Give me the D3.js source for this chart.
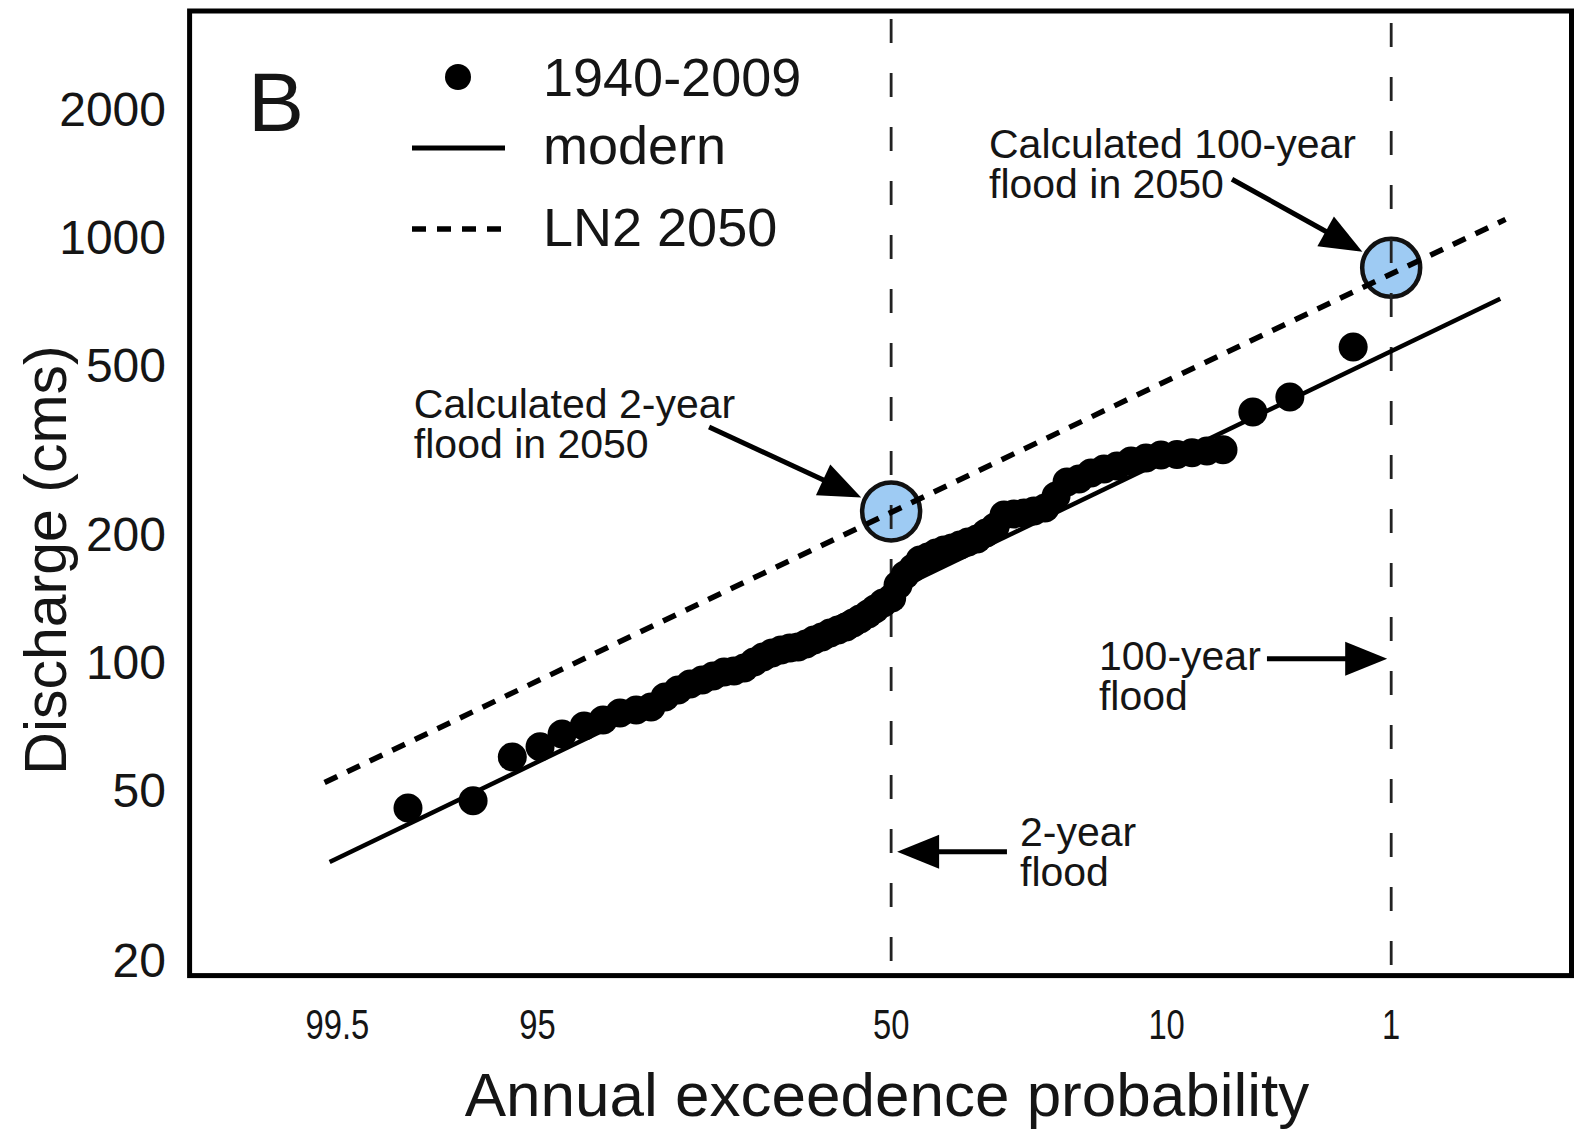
<!DOCTYPE html>
<html>
<head>
<meta charset="utf-8">
<script src="https://cdn.jsdelivr.net/npm/d3@7"></script>
<style>
  body { margin: 0; background: #fff; }
  svg text { font-family: "Liberation Sans", Arial, Helvetica, sans-serif; fill: #151515; }
</style>
</head>
<body>
<div id="chart"></div>
<script>
// Tick values
const probTicks = [99.5, 95, 50, 10, 1];
const dischargeTicks = [20, 50, 100, 200, 500, 1000, 2000];

// Annual peaks 1940-2009: exceedance probability (%) and discharge (cms)
const obsProb = [98.77, 97.41, 96.10, 94.88, 93.71, 92.34, 90.99, 89.64, 88.22, 86.80,
                 85.36, 83.92, 82.51, 81.03, 79.62, 78.14, 76.76, 75.30, 73.82, 72.44,
                 71.02, 69.57, 68.12, 66.75, 65.40, 64.02, 62.63, 61.18, 59.75, 58.32,
                 57.03, 55.76, 54.26, 52.99, 51.50,
                 49.9, 48.72, 47.42, 45.94, 44.65, 43.19, 41.73, 40.28, 38.85, 37.43,
                 36.03, 34.48, 32.95, 31.45, 29.98, 28.38, 26.83, 25.31, 23.71, 22.15,
                 20.66, 19.11, 17.62, 16.10, 14.67, 13.22, 11.79, 10.47, 9.18, 8.08,
                 7.09, 6.13, 4.62, 3.18, 1.58];
const obsQ = [44.6, 46.4, 58.8, 62.1, 66.6, 69.5, 71.8, 74.6, 75.8, 77.0,
              81.3, 84.5, 87.3, 89.2, 91.1, 93.1, 93.6, 95.2, 98.3, 101.0,
              103.2, 104.9, 106.0, 106.6, 108.3, 110.7, 112.5, 115.0, 116.9, 118.8,
              121.4, 124.1, 127.5, 131.0, 135.3,
              139.0, 149.1, 157.4, 163.5, 170.7, 173.5, 177.3, 180.2, 182.2, 185.2,
              188.2, 191.3, 197.6, 204.1, 217.8, 219.0, 220.1, 222.5, 226.2, 241.4,
              260.4, 264.6, 273.4, 279.4, 283.9, 291.7, 296.5, 301.4, 302, 305,
              308, 310, 380.2, 412.6, 540.6];

// Fitted distributions (straight lines on probability paper)
const modernProb = [99.55, 0.23];
const modernQ = [33.3, 702];
const ln2Prob = [99.58, 0.213];
const ln2Q = [51.2, 1079];

// 2-year and 100-year reference lines, calculated floods in 2050
const floodProb = [50, 1];
const calcProb = [50, 1];
const calcQ = [222, 830];

const W = 1577, H = 1129;
const frame = { left: 189.6, top: 11, right: 1571.5, bottom: 975.6 };

// inverse standard normal (Acklam)
function qnorm(p) {
    const a = [-3.969683028665376e+01, 2.209460984245205e+02, -2.759285104469687e+02, 1.383577518672690e+02, -3.066479806614716e+01, 2.506628277459239e+00];
    const b = [-5.447609879822406e+01, 1.615858368580409e+02, -1.556989798598866e+02, 6.680131188771972e+01, -1.328068155288572e+01];
    const c = [-7.784894002430293e-03, -3.223964580411365e-01, -2.400758277161838e+00, -2.549732539343734e+00, 4.374664141464968e+00, 2.938163982698783e+00];
    const d = [7.784695709041462e-03, 3.224671290700398e-01, 2.445134137142996e+00, 3.754408661907416e+00];
    const pl = 0.02425, ph = 1 - pl;
    let q, r;
    if (p < pl) {
        q = Math.sqrt(-2 * Math.log(p));
        return (((((c[0]*q+c[1])*q+c[2])*q+c[3])*q+c[4])*q+c[5]) / ((((d[0]*q+d[1])*q+d[2])*q+d[3])*q+1);
    }
    if (p <= ph) {
        q = p - 0.5; r = q * q;
        return (((((a[0]*r+a[1])*r+a[2])*r+a[3])*r+a[4])*r+a[5])*q / (((((b[0]*r+b[1])*r+b[2])*r+b[3])*r+b[4])*r+1);
    }
    q = Math.sqrt(-2 * Math.log(1 - p));
    return -(((((c[0]*q+c[1])*q+c[2])*q+c[3])*q+c[4])*q+c[5]) / ((((d[0]*q+d[1])*q+d[2])*q+d[3])*q+1);
}
const zOf = p => qnorm(1 - p / 100);

// Normal-probability x scale, log y scale
const zScale = d3.scaleLinear()
    .domain([zOf(99.945), zOf(0.0775)])
    .range([frame.left, frame.right]);
const x = p => zScale(zOf(p));
const y = d3.scaleLog().domain([18.0, 3333]).range([frame.bottom, frame.top]);

const svg = d3.select("#chart").append("svg")
    .attr("width", W).attr("height", H)
    .attr("viewBox", `0 0 ${W} ${H}`);

// calculated flood circles
svg.selectAll(".calc")
    .data(calcProb.map((p, i) => ({ p: p, q: calcQ[i] })))
    .enter().append("circle")
    .attr("cx", d => x(d.p))
    .attr("cy", d => y(d.q))
    .attr("r", 29)
    .attr("fill", "#9ecbf3")
    .attr("stroke", "#111")
    .attr("stroke-width", 4.5);

// vertical 2-year / 100-year lines
svg.selectAll(".flood")
    .data(floodProb)
    .enter().append("line")
    .attr("x1", d => x(d)).attr("x2", d => x(d))
    .attr("y1", frame.top).attr("y2", frame.bottom)
    .attr("stroke", "#222")
    .attr("stroke-width", 2.8)
    .attr("stroke-dasharray", "24,30")
    .attr("stroke-dashoffset", (d, i) => i === 0 ? 46 : 42);

const line = d3.line().x(d => x(d.p)).y(d => y(d.q));

svg.append("path")
    .datum(modernProb.map((p, i) => ({ p: p, q: modernQ[i] })))
    .attr("d", line)
    .attr("fill", "none")
    .attr("stroke", "#000")
    .attr("stroke-width", 4.5);

svg.append("path")
    .datum(ln2Prob.map((p, i) => ({ p: p, q: ln2Q[i] })))
    .attr("d", line)
    .attr("fill", "none")
    .attr("stroke", "#000")
    .attr("stroke-width", 5.5)
    .attr("stroke-dasharray", "14,11");

// observed annual peaks
svg.selectAll(".obs")
    .data(obsProb.map((p, i) => ({ p: p, q: obsQ[i] })))
    .enter().append("circle")
    .attr("cx", d => x(d.p))
    .attr("cy", d => y(d.q))
    .attr("r", 14.5)
    .attr("fill", "#000");

// frame
svg.append("rect")
    .attr("x", frame.left).attr("y", frame.top)
    .attr("width", frame.right - frame.left)
    .attr("height", frame.bottom - frame.top)
    .attr("fill", "none")
    .attr("stroke", "#000")
    .attr("stroke-width", 5);

// y tick labels
svg.selectAll(".ylab")
    .data(dischargeTicks)
    .enter().append("text")
    .attr("x", 166)
    .attr("y", d => y(d) + 4)
    .attr("text-anchor", "end")
    .attr("dominant-baseline", "central")
    .style("font-size", "48px")
    .text(d => d);

// x tick labels (condensed face in the original)
svg.selectAll(".xlab")
    .data(probTicks)
    .enter().append("text")
    .attr("transform", d => `translate(${x(d)},1039) scale(0.78,1)`)
    .attr("text-anchor", "middle")
    .style("font-size", "42px")
    .text(d => d);

// axis titles
svg.append("text")
    .attr("x", 887).attr("y", 1116)
    .attr("text-anchor", "middle")
    .style("font-size", "62px")
    .text("Annual exceedence probability");

svg.append("text")
    .attr("transform", "translate(66,560) rotate(-90)")
    .attr("text-anchor", "middle")
    .style("font-size", "59px")
    .text("Discharge (cms)");

// panel letter
svg.append("text")
    .attr("x", 248).attr("y", 131)
    .style("font-size", "84px")
    .text("B");

// legend
svg.append("circle").attr("cx", 458).attr("cy", 77).attr("r", 13).attr("fill", "#000");
svg.append("line").attr("x1", 412).attr("x2", 505).attr("y1", 148).attr("y2", 148)
    .attr("stroke", "#000").attr("stroke-width", 5);
svg.append("line").attr("x1", 412).attr("x2", 505).attr("y1", 229).attr("y2", 229)
    .attr("stroke", "#000").attr("stroke-width", 5.5).attr("stroke-dasharray", "14,11");
const legendLabels = ["1940-2009", "modern", "LN2 2050"];
const legendBase = [96, 164, 246];
svg.selectAll(".leg")
    .data(legendLabels)
    .enter().append("text")
    .attr("x", 543)
    .attr("y", (d, i) => legendBase[i])
    .style("font-size", "54px")
    .text(d => d);

// annotations with arrows
const annotations = [
    { lines: ["Calculated 2-year", "flood in 2050"], textP: 98.68, textQ: 368,
      tailP: 80.15, tailQ: 350.7, headP: 50, headQ: 222, gap: 33 },
    { lines: ["Calculated 100-year", "flood in 2050"], textP: 32.44, textQ: 1504,
      tailP: 5.64, tailQ: 1341, headP: 1, headQ: 830, gap: 33 },
    { lines: ["100-year", "flood"], textP: 16.68, textQ: 94.1,
      tailP: 4.02, tailQ: 100, headP: 1, headQ: 100, gap: 4 },
    { lines: ["2-year", "flood"], textP: 27.44, textQ: 36.3,
      tailP: 29.5, tailQ: 35.2, headP: 50, headQ: 35.2, gap: 6 }
];

annotations.forEach(a => {
    const t = svg.append("text")
        .attr("x", x(a.textP))
        .attr("y", y(a.textQ))
        .style("font-size", "41px");
    a.lines.forEach((l, i) => {
        t.append("tspan")
            .attr("x", x(a.textP))
            .attr("dy", i === 0 ? 0 : 40)
            .text(l);
    });

    const x0 = x(a.tailP), y0 = y(a.tailQ);
    const xc = x(a.headP), yc = y(a.headQ);
    const len = Math.hypot(xc - x0, yc - y0);
    const ux = (xc - x0) / len, uy = (yc - y0) / len;
    const tipX = xc - ux * a.gap, tipY = yc - uy * a.gap;
    const headLen = 42;
    svg.append("line")
        .attr("x1", x0).attr("y1", y0)
        .attr("x2", tipX - ux * (headLen - 4)).attr("y2", tipY - uy * (headLen - 4))
        .attr("stroke", "#000").attr("stroke-width", 5);
    const ang = Math.atan2(uy, ux) * 180 / Math.PI;
    svg.append("path")
        .attr("d", `M0,0 L${-headLen},-17 L${-headLen},17 Z`)
        .attr("transform", `translate(${tipX},${tipY}) rotate(${ang})`)
        .attr("fill", "#000");
});
</script>
</body>
</html>
